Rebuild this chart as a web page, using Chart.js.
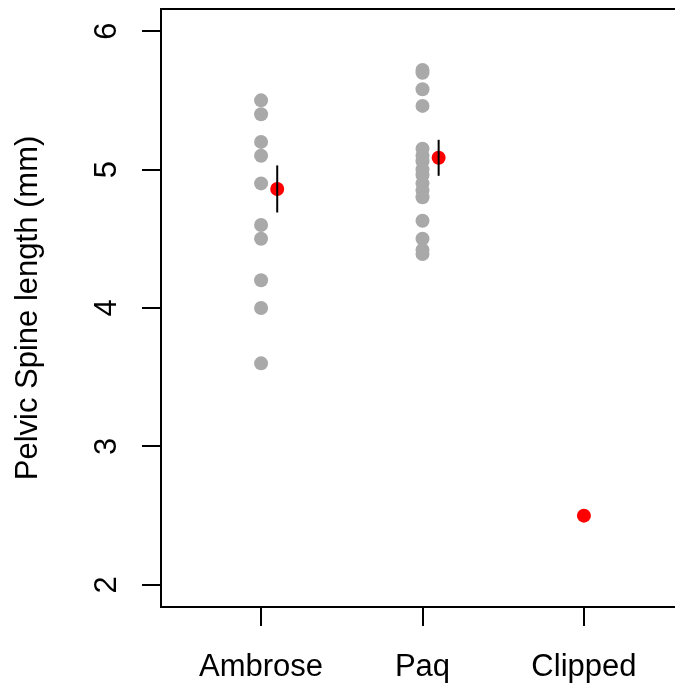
<!DOCTYPE html>
<html>
<head>
<meta charset="utf-8">
<script src="https://cdn.jsdelivr.net/npm/chart.js@4"></script>
<style>
  body { margin: 0; background: #fff; overflow: hidden; }
  #wrap { width: 675px; height: 687px; overflow: hidden; }
</style>
</head>
<body>
<div id="wrap">
  <canvas id="myChart" width="691" height="687"></canvas>
</div>
<script>
const categories = ["Ambrose", "Paq", "Clipped"];
const ambrose = [5.5, 5.4, 5.2, 5.1, 4.9, 4.6, 4.5, 4.2, 4.0, 3.6];
const paq = [5.72, 5.70, 5.58, 5.46, 5.15, 5.10, 5.06, 5.00, 4.96, 4.90, 4.85, 4.80, 4.63, 4.50, 4.42, 4.39];
const means = [4.86, 5.085, 2.5];
const meanX = [1.1, 2.1, 3];
const errLow = [4.69, 4.955, null];
const errHigh = [5.03, 5.215, null];
const yTicks = [2, 3, 4, 5, 6];
const xTicks = [1, 2, 3];

const font = "'Liberation Sans', Arial, sans-serif";

const toPoints = (vals, x) => vals.map((v) => ({ x: x, y: v }));

const errorSets = means
  .map((m, i) => {
    if (errLow[i] === null) return null;
    return {
      type: "line",
      data: [
        { x: meanX[i], y: errLow[i] },
        { x: meanX[i], y: errHigh[i] },
      ],
      borderColor: "#000",
      borderWidth: 2,
      pointRadius: 0,
      showLine: true,
      order: 0,
    };
  })
  .filter((d) => d);

// box round the plot, like R's frame
const boxPlugin = {
  id: "box",
  afterDraw: (chart) => {
    const { ctx, chartArea } = chart;
    ctx.save();
    ctx.strokeStyle = "#000";
    ctx.lineWidth = 2;
    ctx.strokeRect(chartArea.left, chartArea.top, chartArea.right - chartArea.left, chartArea.bottom - chartArea.top);
    ctx.restore();
  },
};

const ctx = document.getElementById("myChart").getContext("2d");
const myChart = new Chart(ctx, {
  type: "scatter",
  data: {
    datasets: [
      {
        data: toPoints(ambrose, 1).concat(toPoints(paq, 2)),
        backgroundColor: "#a9a9a9",
        borderWidth: 0,
        pointRadius: 7,
        order: 2,
      },
      {
        data: means.map((m, i) => ({ x: meanX[i], y: m })),
        backgroundColor: "#ff0000",
        borderWidth: 0,
        pointRadius: 7,
        order: 1,
      },
      ...errorSets,
    ],
  },
  options: {
    responsive: false,
    animation: false,
    devicePixelRatio: 1,
    layout: { padding: { top: 9, right: 2, left: 0, bottom: 0 } },
    plugins: { legend: { display: false }, tooltip: { enabled: false } },
    scales: {
      x: {
        type: "linear",
        min: 0.38,
        max: 3.62,
        afterBuildTicks: (scale) => {
          scale.ticks = xTicks.map((v) => ({ value: v }));
        },
        afterFit: (scale) => {
          scale.height = 80;
          scale.paddingLeft = 0;
          scale.paddingRight = 0;
        },
        border: { display: false },
        grid: { drawOnChartArea: false, color: "#000", lineWidth: 2, tickLength: 19 },
        ticks: {
          color: "#000",
          font: { family: font, size: 31 },
          padding: 23,
          maxRotation: 0,
          callback: (v) => categories[v - 1],
        },
      },
      y: {
        min: 1.84,
        max: 6.16,
        afterBuildTicks: (scale) => {
          scale.ticks = yTicks.map((v) => ({ value: v }));
        },
        afterFit: (scale) => {
          scale.width = 161;
          scale.paddingTop = 0;
          scale.paddingBottom = 0;
        },
        border: { display: false },
        grid: { drawOnChartArea: false, color: "#000", lineWidth: 2, tickLength: 19 },
        ticks: {
          color: "#000",
          font: { family: font, size: 31 },
          minRotation: 90,
          maxRotation: 90,
          crossAlign: "center",
          padding: 26,
        },
        title: {
          display: true,
          text: "Pelvic Spine length (mm)",
          color: "#000",
          font: { family: font, size: 31 },
          padding: { top: 10, bottom: 0 },
        },
      },
    },
  },
  plugins: [boxPlugin],
});
</script>
</body>
</html>
